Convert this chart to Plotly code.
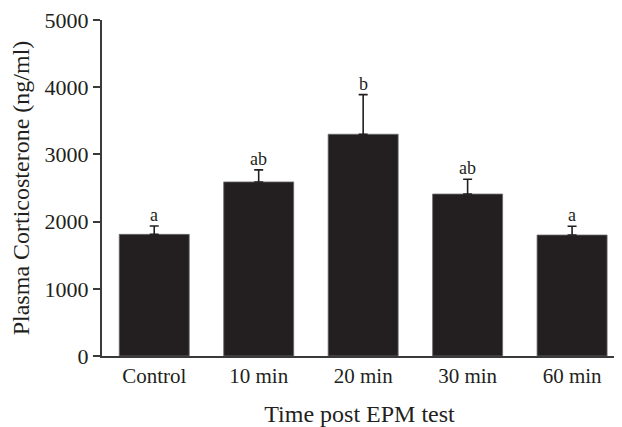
import plotly.graph_objects as go

categories = ["Control", "10 min", "20 min", "30 min", "60 min"]
means = [1810, 2590, 3300, 2410, 1800]
sems = [125, 180, 590, 220, 130]
letters = ["a", "ab", "b", "ab", "a"]
y_ticks = [0, 1000, 2000, 3000, 4000, 5000]

ink = "#231f20"
axis_col = "#3a3a3a"
font_family = "Liberation Serif, Times New Roman, serif"

xpos = list(range(len(categories)))

fig = go.Figure()
fig.add_trace(go.Bar(
    x=xpos, y=means,
    marker=dict(color=ink, line=dict(color="#6a6a6a", width=0.8)),
    width=0.67,
    error_y=dict(type="data", symmetric=False, array=sems,
                 arrayminus=[0] * len(sems), color=ink, thickness=1.6, width=4.5),
    showlegend=False,
))

for i, (m, s, lab) in enumerate(zip(means, sems, letters)):
    fig.add_annotation(x=i, y=m + s, text=lab, showarrow=False,
                       yanchor="bottom", yshift=-1,
                       font=dict(family=font_family, size=18, color=ink))

# page body has an 8px default margin, so the figure is sized/offset to compensate
fig.update_layout(
    width=614, height=419,
    margin=dict(l=94, r=5, t=12, b=71),
    plot_bgcolor="white", paper_bgcolor="white",
    font=dict(family=font_family, color=ink),
    bargap=0.33,
)
fig.update_xaxes(
    tickmode="array", tickvals=xpos, ticktext=categories,
    range=[-0.5, 4.43], automargin=False,
    showline=True, linecolor=axis_col, linewidth=2,
    ticks="", showgrid=False, zeroline=False,
    tickfont=dict(family=font_family, size=21, color=ink),
    title=dict(text="Time post EPM test", standoff=22,
               font=dict(family=font_family, size=24, color=ink)),
)
fig.update_yaxes(
    range=[0, 5000], tickmode="array", tickvals=y_ticks, automargin=False,
    showline=True, linecolor=axis_col, linewidth=2,
    ticks="outside", ticklen=7, tickwidth=2, tickcolor=axis_col,
    showgrid=False, zeroline=False, ticklabeloverflow="allow",
    tickfont=dict(family=font_family, size=22, color=ink),
    title=dict(text="Plasma Corticosterone (ng/ml)", standoff=12,
               font=dict(family=font_family, size=24, color=ink)),
)

fig.write_html("out.html")
